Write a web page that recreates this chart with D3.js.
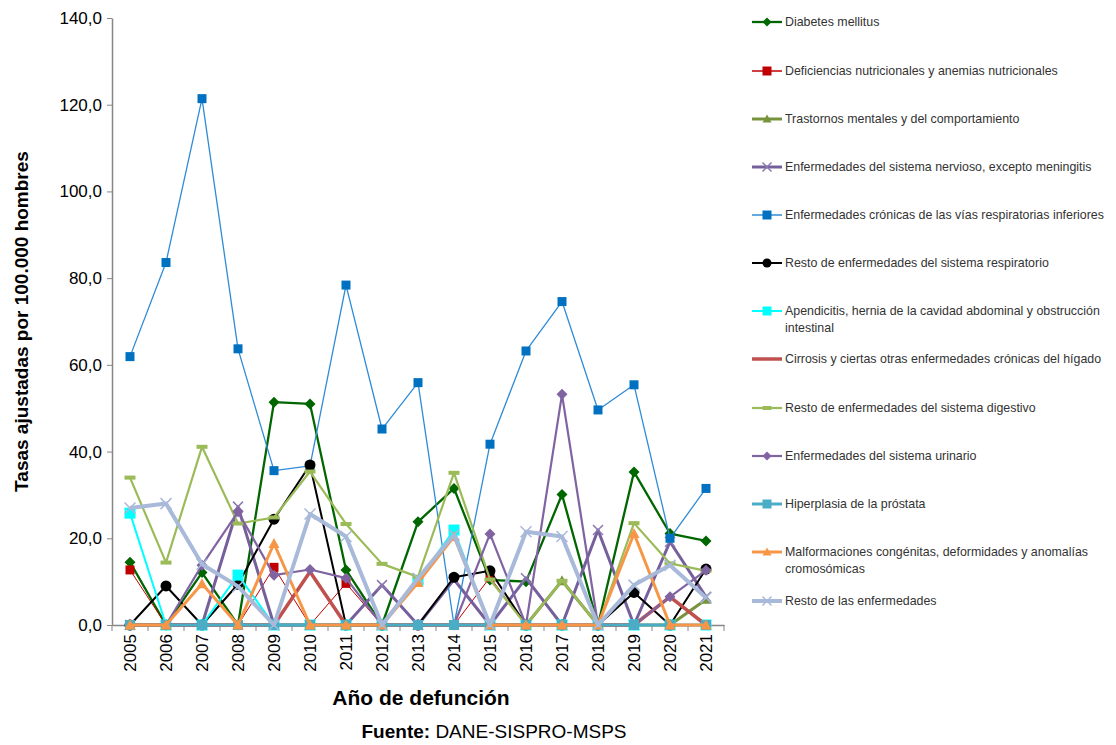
<!DOCTYPE html>
<html>
<head>
<meta charset="utf-8">
<script src="https://cdn.jsdelivr.net/npm/d3@7"></script>
<style>
  body { margin: 0; background: #fff; }
  svg { display: block; }
  .narrow { font-family: "Liberation Sans Narrow", "Arial Narrow", "Liberation Sans", Arial, sans-serif; }
</style>
</head>
<body>
<div id="chart"></div>
<script>
// Years of death (x categories)
const years = ["2005","2006","2007","2008","2009","2010","2011","2012","2013",
               "2014","2015","2016","2017","2018","2019","2020","2021"];

const yTicks = [0, 20, 40, 60, 80, 100, 120, 140];

// Series values, rate per 100.000 men
const diabetes      = [14.5, 0, 12.1, 0, 51.4, 51.0, 12.7, 0, 23.8, 31.5, 10.4, 10.0, 30.1, 0, 35.3, 21.1, 19.4];
const deficiencias  = [12.7, 0, 0, 0, 13.3, 0, 9.6, 0, 0, 0, 11.0, 0, 0, 0, 0, 0, 0];
const trastornos    = [0, 0, 0, 0, 0, 0, 0, 0, 0, 0, 0, 0, 10.2, 0, 0, 0, 5.9];
const nervioso      = [0, 0, 0, 27.3, 0, 0, 0, 9.2, 0, 10.5, 0, 10.8, 0, 21.9, 0, 19.2, 6.5];
const cronicasResp  = [61.9, 83.6, 121.4, 63.7, 35.6, 36.7, 78.4, 45.2, 55.9, 0, 41.7, 63.2, 74.6, 49.6, 55.4, 20.0, 31.5];
const restoResp     = [0, 9.0, 0, 9.4, 24.4, 36.9, 0, 0, 0, 11.0, 12.5, 0, 0, 0, 7.5, 0, 12.9];
const apendicitis   = [25.8, 0, 0, 11.5, 0, 0, 0, 0, 10.3, 21.9, 0, 0, 0, 0, 0, 0, 0];
const cirrosis      = [0, 0, 0, 0, 0, 12.3, 0, 0, 0, 0, 0, 0, 0, 0, 0, 6.5, 0];
const restoDigest   = [34.0, 14.4, 41.1, 23.4, 24.8, 35.4, 23.3, 14.1, 11.1, 35.1, 10.5, 0, 10.2, 0, 23.5, 14.2, 12.5];
const urinario      = [0, 0, 13.8, 26.1, 11.5, 12.8, 10.8, 0, 0, 0, 21.0, 0, 53.2, 0, 0, 6.5, 12.6];
const hiperplasia   = [0, 0, 0, 0, 0, 0, 0, 0, 0, 0, 0, 0, 0, 0, 0, 0, 0];
const malformaciones= [0, 0, 9.5, 0, 18.8, 0, 0, 0, 9.8, 20.4, 0, 0, 0, 0, 21.1, 0, 0];
const restoEnf      = [27.0, 28.0, 14.0, 8.9, 0, 25.6, 20.4, 0, 10.8, 20.8, 0, 21.5, 20.4, 0, 9.2, 13.8, 6.3];

const series = [
  { name: "Diabetes mellitus", values: diabetes, color: "#006600", mcolor: "#006600", width: 2.3, marker: "diamond", size: 11 },
  { name: "Deficiencias nutricionales y anemias nutricionales", values: deficiencias, color: "#c00000", mcolor: "#c00000", width: 1, marker: "square", size: 9 },
  { name: "Trastornos mentales y del comportamiento", values: trastornos, color: "#77933c", mcolor: "#77933c", width: 3, marker: "triangle", size: 11 },
  { name: "Enfermedades del sistema nervioso, excepto meningitis", values: nervioso, color: "#76609c", mcolor: "#8c78b0", width: 3, marker: "x", size: 10 },
  { name: "Enfermedades crónicas de las vías respiratorias inferiores", values: cronicasResp, color: "#2f8bd6", mcolor: "#0070c0", width: 1.3, marker: "square", size: 9 },
  { name: "Resto de enfermedades del sistema respiratorio", values: restoResp, color: "#000000", mcolor: "#000000", width: 2, marker: "circle", size: 11 },
  { name: "Apendicitis, hernia de la cavidad abdominal y obstrucción intestinal", values: apendicitis, color: "#00ffff", mcolor: "#00ffff", width: 2, marker: "square", size: 11 },
  { name: "Cirrosis y ciertas otras enfermedades crónicas del hígado", values: cirrosis, color: "#c0504d", mcolor: "#c0504d", width: 3.5, marker: "none", size: 0 },
  { name: "Resto de enfermedades del sistema digestivo", values: restoDigest, color: "#9bbb59", mcolor: "#9bbb59", width: 2.2, marker: "dash", size: 11 },
  { name: "Enfermedades del sistema urinario", values: urinario, color: "#8064a2", mcolor: "#8064a2", width: 2.2, marker: "diamond", size: 11 },
  { name: "Hiperplasia de la próstata", values: hiperplasia, color: "#4bacc6", mcolor: "#4bacc6", width: 3, marker: "square", size: 10 },
  { name: "Malformaciones congénitas, deformidades y anomalías cromosómicas", values: malformaciones, color: "#f79646", mcolor: "#f79646", width: 3, marker: "triangle", size: 11 },
  { name: "Resto de las enfermedades", values: restoEnf, color: "#a8b9d9", mcolor: "#a8b9d9", width: 4, marker: "x", size: 11 }
];

const legendLines = [
  ["Diabetes mellitus"],
  ["Deficiencias nutricionales y anemias nutricionales"],
  ["Trastornos mentales y del comportamiento"],
  ["Enfermedades del sistema nervioso, excepto meningitis"],
  ["Enfermedades crónicas de las vías respiratorias inferiores"],
  ["Resto de enfermedades del sistema respiratorio"],
  ["Apendicitis, hernia de la cavidad abdominal y obstrucción", "intestinal"],
  ["Cirrosis y ciertas otras enfermedades crónicas del hígado"],
  ["Resto de enfermedades del sistema digestivo"],
  ["Enfermedades del sistema urinario"],
  ["Hiperplasia de la próstata"],
  ["Malformaciones congénitas, deformidades y anomalías", "cromosómicas"],
  ["Resto de las enfermedades"]
];

const W = 1116, H = 745;
const plot = { left: 112, right: 724, top: 18, bottom: 625 };

const svg = d3.select("#chart").append("svg")
  .attr("width", W).attr("height", H);

const x = d3.scaleBand().domain(years).range([plot.left, plot.right]);
const y = d3.scaleLinear().domain([0, 140]).range([plot.bottom, plot.top]);
const cx = d => x(d) + x.bandwidth() / 2;

// Marker path builder
function markerPath(type, s) {
  const h = s / 2;
  switch (type) {
    case "diamond": return `M0,${-h}L${h},0L0,${h}L${-h},0Z`;
    case "square": return `M${-h},${-h}H${h}V${h}H${-h}Z`;
    case "triangle": return `M0,${-h}L${h},${h * 0.8}L${-h},${h * 0.8}Z`;
    case "dash": return `M${-h},-2H${h}V2H${-h}Z`;
    case "x": return `M${-h},${-h}L${h},${h}M${h},${-h}L${-h},${h}`;
    default: return "";
  }
}

function drawMarker(g, type, s, color, tx, ty) {
  if (type === "none") return;
  if (type === "circle") {
    g.append("circle").attr("cx", tx).attr("cy", ty).attr("r", s / 2).attr("fill", color);
  } else if (type === "x") {
    g.append("path").attr("d", markerPath(type, s))
      .attr("transform", `translate(${tx},${ty})`)
      .attr("fill", "none").attr("stroke", color).attr("stroke-width", 1.5);
  } else {
    g.append("path").attr("d", markerPath(type, s))
      .attr("transform", `translate(${tx},${ty})`)
      .attr("fill", color);
  }
}

// Axes
const axisColor = "#868686";
const yAxis = svg.append("g")
  .attr("transform", `translate(${plot.left},0)`)
  .call(d3.axisLeft(y).tickValues(yTicks).tickSize(5).tickSizeOuter(0)
    .tickFormat(d => d3.format(".1f")(d).replace(".", ",")));
yAxis.select(".domain").attr("stroke", axisColor).attr("stroke-width", 1.5);
yAxis.selectAll(".tick line").attr("stroke", axisColor);
yAxis.selectAll("text").attr("class", "narrow").attr("font-size", 17)
  .attr("fill", "#000").attr("x", -10);

const xAxis = svg.append("g")
  .attr("transform", `translate(0,${plot.bottom})`)
  .call(d3.axisBottom(x).tickSize(0).tickSizeOuter(0));
xAxis.select(".domain").attr("stroke", axisColor).attr("stroke-width", 1.5);
xAxis.selectAll("text").attr("class", "narrow").attr("font-size", 17).attr("fill", "#000")
  .attr("transform", "rotate(-90)").attr("text-anchor", "end")
  .attr("x", -9).attr("y", 0).attr("dy", "0.35em");
// tick marks at category boundaries
svg.append("g").selectAll("line")
  .data(years.concat(["end"]))
  .join("line")
  .attr("x1", (d, i) => plot.left + i * x.bandwidth())
  .attr("x2", (d, i) => plot.left + i * x.bandwidth())
  .attr("y1", plot.bottom).attr("y2", plot.bottom + 6)
  .attr("stroke", axisColor);

// Series lines and markers
const line = d3.line().x((d, i) => cx(years[i])).y(d => y(d));
series.forEach(s => {
  const g = svg.append("g");
  g.append("path").datum(s.values)
    .attr("d", line)
    .attr("fill", "none")
    .attr("stroke", s.color)
    .attr("stroke-width", s.width)
    .attr("stroke-linejoin", "round");
  s.values.forEach((v, i) => drawMarker(g, s.marker, s.size, s.mcolor, cx(years[i]), y(v)));
});

// Axis titles
svg.append("text").attr("class", "narrow")
  .attr("transform", `translate(28,${(plot.top + plot.bottom) / 2}) rotate(-90)`)
  .attr("text-anchor", "middle").attr("font-size", 19).attr("font-weight", "bold")
  .text("Tasas ajustadas por 100.000 hombres");

svg.append("text").attr("class", "narrow")
  .attr("x", 421).attr("y", 705)
  .attr("text-anchor", "middle").attr("font-size", 21).attr("font-weight", "bold")
  .text("Año de defunción");

const src = svg.append("text").attr("class", "narrow")
  .attr("x", 494).attr("y", 738).attr("text-anchor", "middle").attr("font-size", 19);
src.append("tspan").attr("font-weight", "bold").text("Fuente: ");
src.append("tspan").text("DANE-SISPRO-MSPS");

// Legend
const legendTops = [22, 71, 119, 167, 215, 263, 311, 359, 408, 456, 504, 552, 601];
const legend = svg.append("g");
series.forEach((s, i) => {
  const ly = legendTops[i];
  const g = legend.append("g");
  g.append("line").attr("x1", 752).attr("x2", 782).attr("y1", ly).attr("y2", ly)
    .attr("stroke", s.color).attr("stroke-width", Math.max(s.width, 1.5));
  drawMarker(g, s.marker, Math.min(s.size, 9), s.mcolor, 767, ly);
  const t = g.append("text").attr("x", 785).attr("y", ly)
    .attr("font-family", "'Liberation Sans', Arial, sans-serif")
    .attr("font-size", 12.4).attr("fill", "#333");
  legendLines[i].forEach((txt, j) => {
    t.append("tspan").attr("x", 785).attr("dy", j === 0 ? "0.35em" : 17).text(txt);
  });
});
</script>
</body>
</html>
